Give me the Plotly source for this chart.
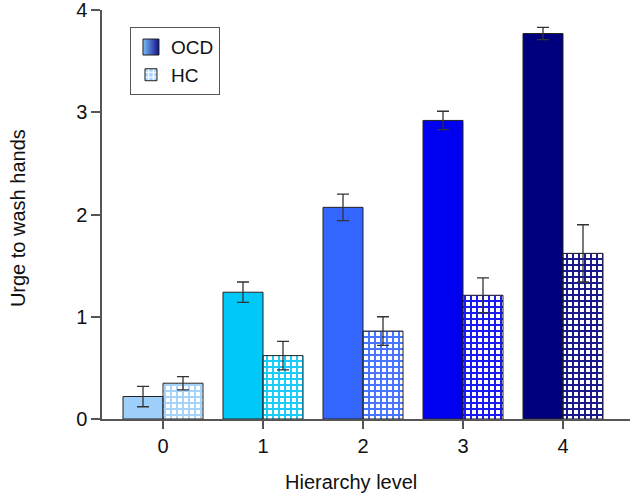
import plotly.graph_objects as go

levels = [0, 1, 2, 3, 4]
tick_labels = ["0", "1", "2", "3", "4"]
ocd_mean = [0.22, 1.24, 2.07, 2.92, 3.77]
ocd_err = [0.10, 0.10, 0.13, 0.09, 0.06]
hc_mean = [0.35, 0.62, 0.86, 1.21, 1.62]
hc_err = [0.065, 0.14, 0.14, 0.17, 0.28]
level_colors = ["#9ECFFA", "#00C8F8", "#3366FF", "#0000F0", "#00007F"]

FONT = "Liberation Sans, Arial, sans-serif"

fig = go.Figure()

# legend entry for OCD (gradient swatch)
fig.add_trace(go.Scatter(
    x=[None], y=[None], mode="markers", name="OCD",
    marker=dict(symbol="square", size=16, color="#7DBDF5",
                gradient=dict(type="horizontal", color="#10108A"),
                line=dict(color="#222", width=1)),
))

fig.add_trace(go.Bar(
    x=levels, y=ocd_mean, name="OCD", showlegend=False,
    marker=dict(color=level_colors, line=dict(color="#222", width=1)),
    error_y=dict(type="data", array=ocd_err, color="#333", thickness=1.3, width=6),
))

fig.add_trace(go.Bar(
    x=levels, y=hc_mean, name="HC",
    marker=dict(color=level_colors, line=dict(color="#222", width=1),
                pattern=dict(shape="+", fillmode="replace", fgcolor="white",
                             bgcolor=level_colors, fgopacity=0.9,
                             size=6, solidity=0.55)),
    error_y=dict(type="data", array=hc_err, color="#333", thickness=1.3, width=6),
))

fig.update_layout(
    width=630, height=497,
    margin=dict(l=102, r=0, t=10, b=78, autoexpand=False),
    paper_bgcolor="white", plot_bgcolor="white",
    barmode="group", bargap=0.2, bargroupgap=0,
    font=dict(family=FONT, size=20, color="#111"),
    legend=dict(x=0.053, y=0.958, xanchor="left", yanchor="top",
                bordercolor="#555", borderwidth=1, bgcolor="white",
                font=dict(size=19), tracegroupgap=0),
    xaxis=dict(range=[-0.61, 4.67], tickvals=levels, ticktext=tick_labels,
               showline=True, linecolor="#555", linewidth=1.5,
               ticks="outside", ticklen=8, tickcolor="#555", tickwidth=1.5,
               showgrid=False, zeroline=False, automargin=False,
               ticklabeloverflow="allow"),
    yaxis=dict(range=[0, 4], tickvals=[0, 1, 2, 3, 4],
               showline=True, linecolor="#555", linewidth=1.5,
               ticks="outside", ticklen=9, tickcolor="#555", tickwidth=1.5,
               showgrid=False, zeroline=False, automargin=False,
               ticklabeloverflow="allow"),
    annotations=[
        dict(text="Hierarchy level", xref="paper", yref="paper",
             x=0.4716, y=-0.155, xanchor="center", yanchor="middle",
             showarrow=False, font=dict(size=20)),
        dict(text="Urge to wash hands", xref="paper", yref="paper",
             x=-0.16, y=0.49, xanchor="center", yanchor="middle",
             textangle=-90, showarrow=False, font=dict(size=20)),
    ],
)

fig.write_html(
    "out.html",
    config={"displayModeBar": False},
    post_script="document.body.style.margin='0px';document.body.style.padding='0px';",
)
